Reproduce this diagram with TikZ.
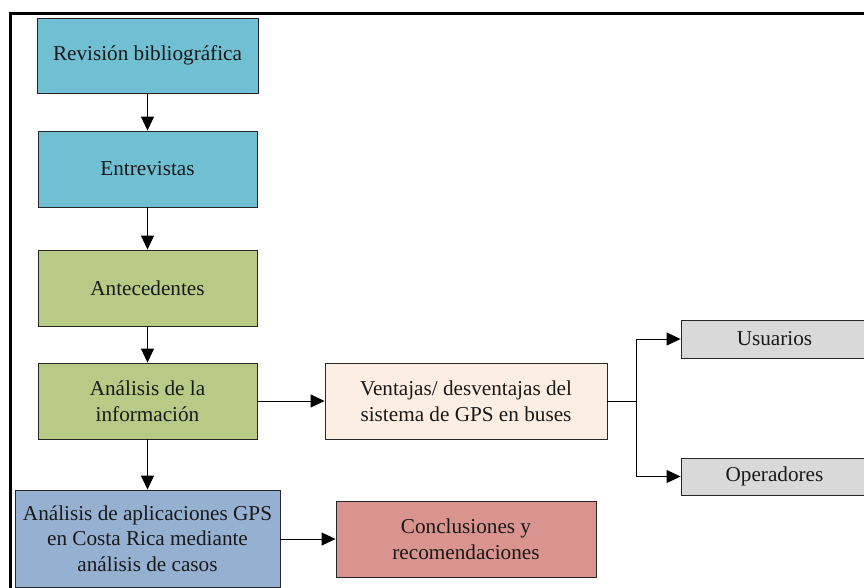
\documentclass[tikz,border=0pt]{standalone}
\usepackage{fontspec}
\setmainfont{Liberation Serif}
\newfontfamily\tms{Liberation Serif}
\usetikzlibrary{arrows.meta,calc}
\definecolor{cyanbox}{HTML}{70BFD3}
\definecolor{greenbox}{HTML}{B7CB86}
\definecolor{peachbox}{HTML}{FDEEE3}
\definecolor{greybox}{HTML}{D9D9D9}
\definecolor{bluebox}{HTML}{95B0D1}
\definecolor{redbox}{HTML}{D9948F}
\tikzset{
  stepbox/.style={draw=black!85, line width=0.9pt, align=center, inner sep=2pt,
    font=\tms\fontsize{21.2}{25.5}\selectfont, text=black!90},
  arr/.style={line width=0.9pt, -{Triangle[length=14pt,width=13pt]}},
  plainline/.style={line width=0.9pt},
}
\begin{document}
\begin{tikzpicture}[x=1pt,y=-1pt]
\useasboundingbox (0,0) rectangle (864,587);
\fill[white] (0,0) rectangle (864,587);
% frame
\draw[line width=2.6pt] (10.5,600) -- (10.5,13.5) -- (880,13.5);
% nodes
\node[stepbox, fill=cyanbox, minimum width=221pt, minimum height=75pt] (rev) at (147.5,55.5) {Revisión bibliográfica};
\node[stepbox, fill=cyanbox, minimum width=219pt, minimum height=76pt] (ent) at (147.5,169) {Entrevistas};
\node[stepbox, fill=greenbox, minimum width=219pt, minimum height=76pt] (ant) at (147.5,288) {Antecedentes};
\node[stepbox, fill=greenbox, minimum width=219pt, minimum height=76pt] (ana) at (147.5,401) {Análisis de la\\información};
\node[stepbox, fill=peachbox, minimum width=282pt, minimum height=76pt] (ven) at (466,401) {Ventajas/ desventajas del\\sistema de GPS en buses};
\node[stepbox, fill=greybox, minimum width=187pt, minimum height=38pt] (usu) at (774.5,339) {Usuarios};
\node[stepbox, fill=greybox, minimum width=187pt, minimum height=37pt] (ope) at (774.5,476.5) {Operadores};
\node[stepbox, fill=bluebox, minimum width=265pt, minimum height=97pt] (apl) at (147.5,538.5) {Análisis de aplicaciones GPS\\en Costa Rica mediante\\análisis de casos};
\node[stepbox, fill=redbox, minimum width=260pt, minimum height=76pt] (con) at (466,539) {Conclusiones y\\recomendaciones};
\coordinate (fork) at ($(ven.east)+(29,0)$);
% connectors
\draw[arr] (rev) -- (ent);
\draw[arr] (ent) -- (ant);
\draw[arr] (ant) -- (ana);
\draw[arr] (ana) -- (apl);
\draw[arr] (ana) -- (ven);
\draw[arr] (apl.east |- con.west) -- (con.west);
\draw[plainline] (ven.east) -- (fork);
\draw[arr] (fork) |- (usu.west);
\draw[arr] (fork) |- (ope.west);
\end{tikzpicture}
\end{document}
